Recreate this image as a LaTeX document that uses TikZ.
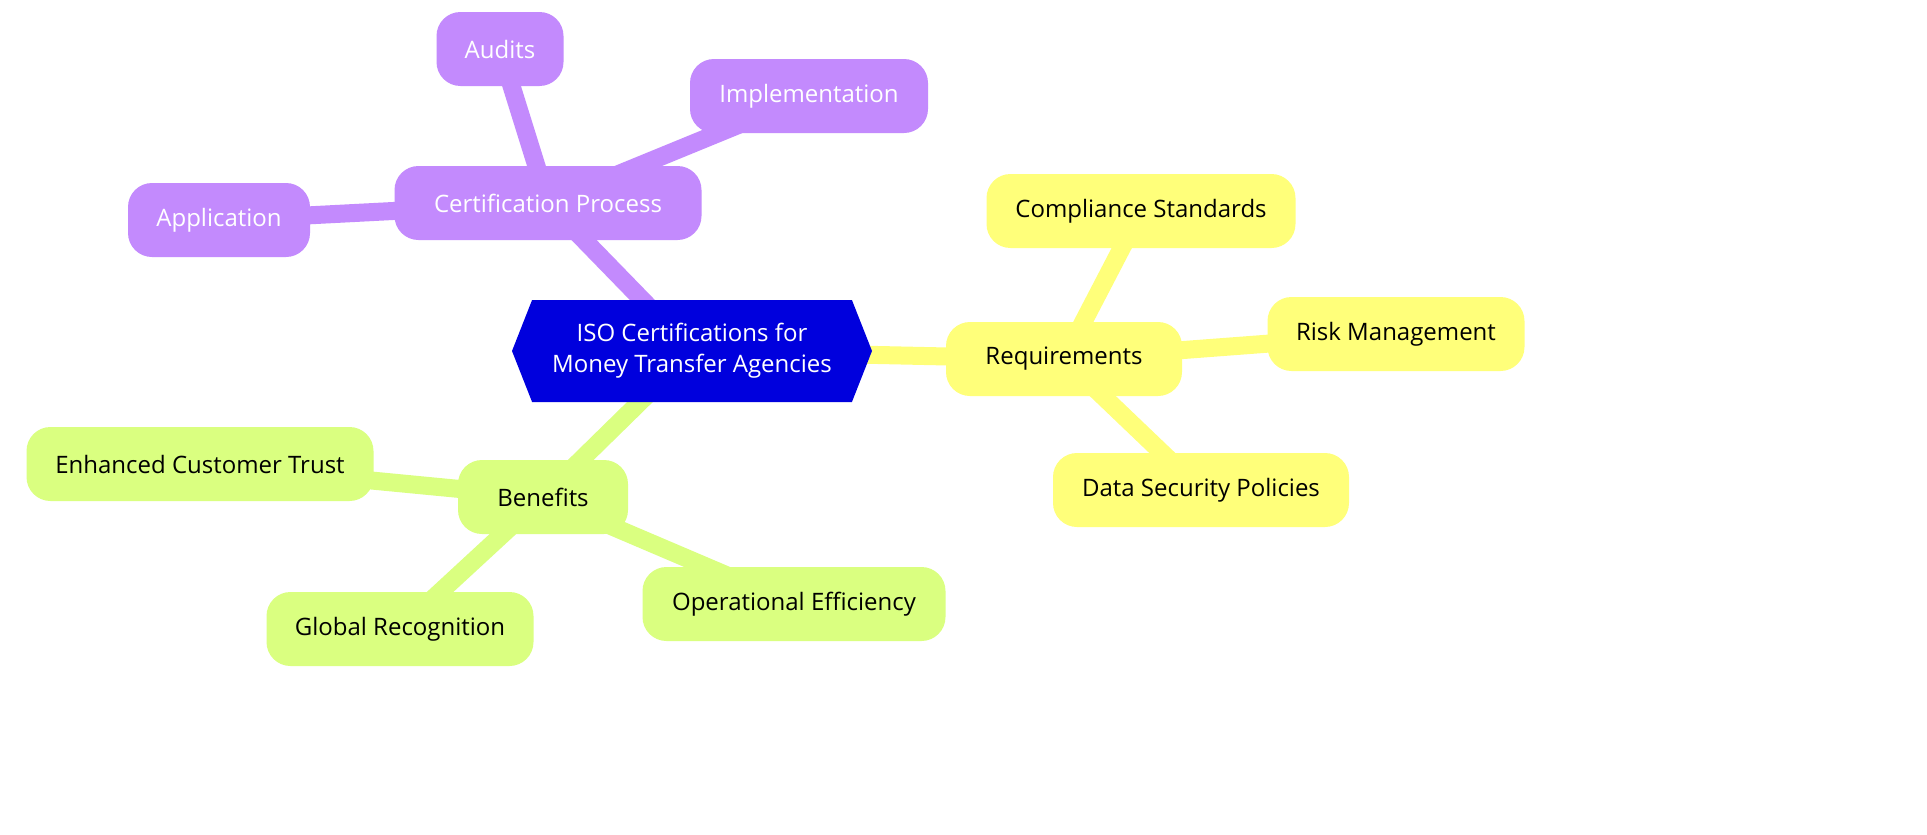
\documentclass[tikz,border=0pt]{standalone}
\usepackage{fontspec}
\setmainfont{Open Sans}
\usetikzlibrary{shapes.symbols,backgrounds}
\definecolor{pur}{HTML}{C38AFD}
\definecolor{yel}{HTML}{FFFF7A}
\definecolor{grn}{HTML}{DAFF80}
\definecolor{cen}{HTML}{0000DD}
\begin{document}
\begin{tikzpicture}[x=1pt,y=-1pt,
  leaf/.style={rounded corners=24pt,minimum height=74pt,inner xsep=28pt,font=\fontsize{24}{29}\selectfont},
  pn/.style={leaf,fill=pur,text=white},
  yn/.style={leaf,fill=yel,text=black},
  gn/.style={leaf,fill=grn,text=black},
  link/.style={line width=18pt}]
\useasboundingbox (0,0) rectangle (1927,835);
\node[signal,signal to=east and west,signal pointer angle=137,fill=cen,text=white,minimum width=360pt,minimum height=102pt,align=center,font=\fontsize{24}{31}\selectfont] (c) at (692,351) {ISO Certifications for\\Money Transfer Agencies};
\node[pn,minimum width=307pt] (cp) at (548,203) {Certification Process};
\node[pn,minimum width=127pt] (au) at (500,49) {Audits};
\node[pn,minimum width=238pt] (im) at (809,96) {Implementation};
\node[pn,minimum width=182pt] (ap) at (219,220) {Application};
\node[yn,minimum width=236pt] (rq) at (1064,359) {Requirements};
\node[yn,minimum width=309pt] (cs) at (1141,211) {Compliance Standards};
\node[yn,minimum width=257pt] (rm) at (1396,334) {Risk Management};
\node[yn,minimum width=296pt] (ds) at (1201,490) {Data Security Policies};
\node[gn,minimum width=170pt] (be) at (543,497) {Benefits};
\node[gn,minimum width=347pt] (ec) at (200,464) {Enhanced Customer Trust};
\node[gn,minimum width=267pt] (gr) at (400,629) {Global Recognition};
\node[gn,minimum width=303pt] (oe) at (794,604) {Operational Efficiency};
\begin{scope}[on background layer]
\fill[white] (0,0) rectangle (1927,835);
\draw[link,pur] (c.center) -- (cp.center);
\draw[link,pur] (cp.center) -- (au.center);
\draw[link,pur] (cp.center) -- (im.center);
\draw[link,pur] (cp.center) -- (ap.center);
\draw[link,yel] (c.center) -- (rq.center);
\draw[link,yel] (rq.center) -- (cs.center);
\draw[link,yel] (rq.center) -- (rm.center);
\draw[link,yel] (rq.center) -- (ds.center);
\draw[link,grn] (c.center) -- (be.center);
\draw[link,grn] (be.center) -- (ec.center);
\draw[link,grn] (be.center) -- (gr.center);
\draw[link,grn] (be.center) -- (oe.center);
\end{scope}
\end{tikzpicture}
\end{document}
